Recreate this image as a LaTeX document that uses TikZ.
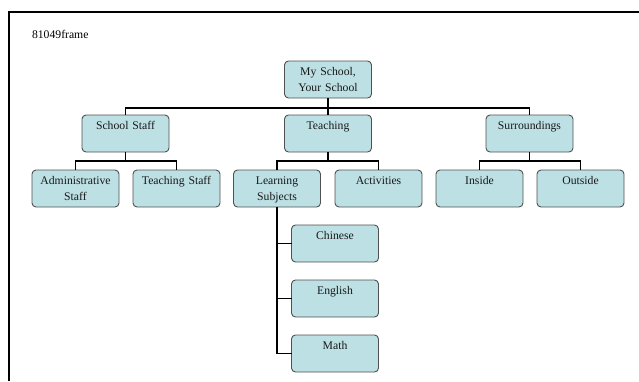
\documentclass[tikz,border=0pt]{standalone}
\usepackage{fontspec}
\setmainfont{Liberation Serif}
\usepackage{tikz}
\usetikzlibrary{calc}
\definecolor{boxfill}{HTML}{BDE0E4}
\definecolor{boxline}{HTML}{505050}
\tikzset{
	unit/.style={rectangle,rounded corners=4pt,draw=boxline,fill=boxfill,line width=0.9pt,
		minimum width=87pt,minimum height=37pt,inner sep=4pt,text width=79pt,align=center,
		text height=10pt,text depth=19pt,anchor=north,font=\fontsize{11.7}{16.5}\selectfont,text=black!90},
	every node/.style={outer sep=0pt},
	link/.style={line width=1.7pt,black},
	frame/.style={line width=2pt,black}
	}
\begin{document}
\begin{tikzpicture}[x=1pt,y=-1pt]
	\useasboundingbox (0,0) rectangle (639,381);
	\draw[frame] (8.5,381) -- (8.5,12) -- (639,12);
	\node[anchor=base west,inner sep=0pt,font=\fontsize{11.7}{14}\selectfont] (title) at (32,38) {81049frame};

	\node[unit] (root) at (328,61) {My School,\\Your School};

	\node[unit] (staff) at (125.5,115) {School Staff};
	\node[unit] (teach) at (328,115) {Teaching};
	\node[unit] (surr) at (529.5,115) {Surroundings};

	\node[unit] (admin) at (75.5,170) {Administrative\\Staff};
	\node[unit] (tstaff) at (176.5,170) {Teaching Staff};
	\node[unit] (subj) at (277,170) {Learning\\Subjects};
	\node[unit] (activ) at (378.5,170) {Activities};
	\node[unit] (inside) at (479.5,170) {Inside};
	\node[unit] (outside) at (580.5,170) {Outside};

	\node[unit] (chinese) at (335,225) {Chinese};
	\node[unit] (english) at (335,280) {English};
	\node[unit] (math) at (335,335) {Math};

	\foreach \c in {staff,teach,surr}
		\draw[link] (root.south) -- ++(0,10) -| (\c.north);
	\foreach \p/\c in {staff/admin,staff/tstaff,teach/subj,teach/activ,surr/inside,surr/outside}
		\draw[link] (\p.south) -- ++(0,9) -| (\c.north);
	\foreach \c in {chinese,english,math}
		\draw[link] (subj.south) |- (\c.west);
\end{tikzpicture}
\end{document}
